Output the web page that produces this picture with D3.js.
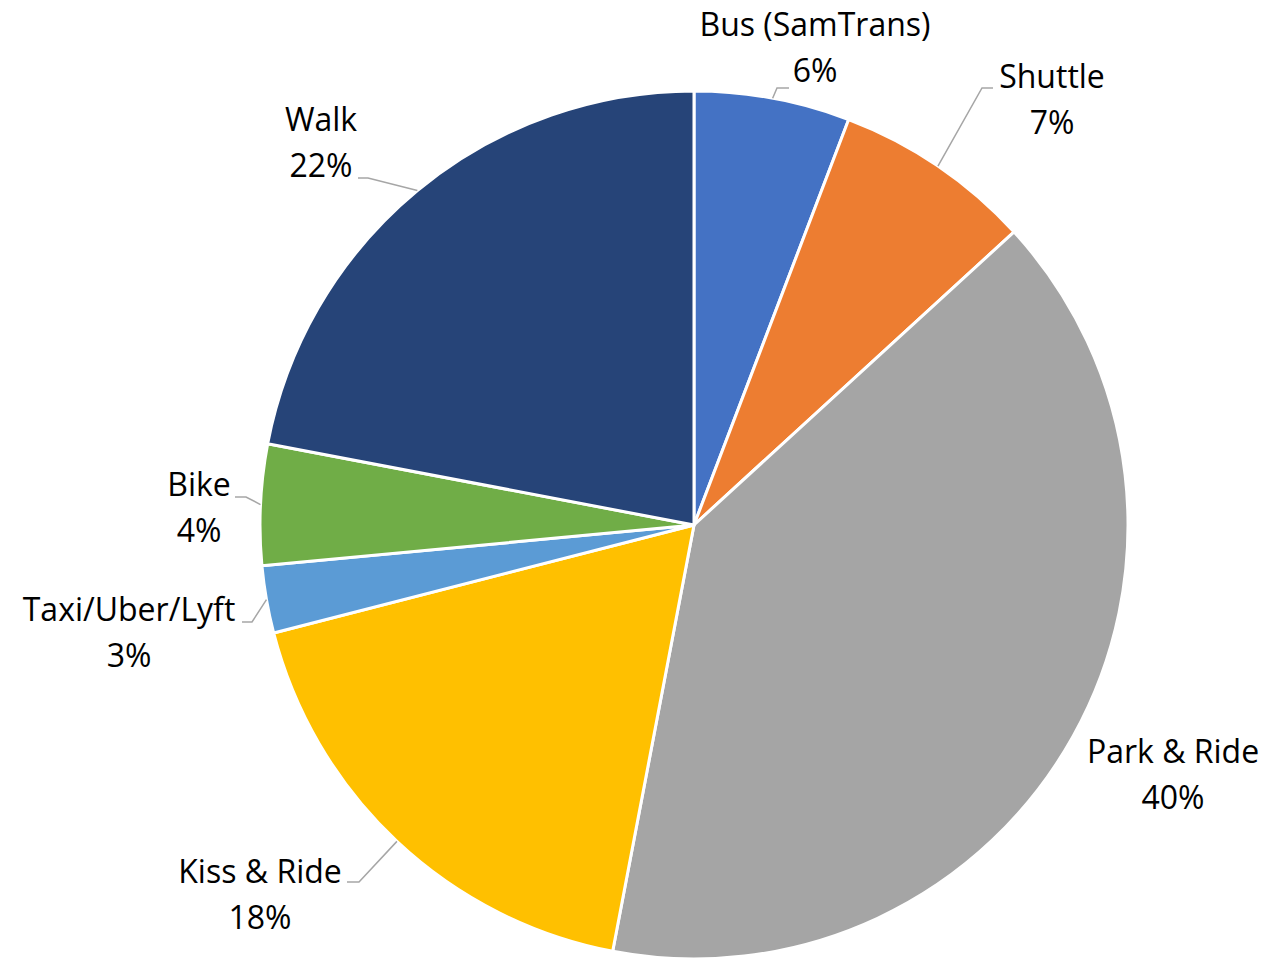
<!DOCTYPE html>
<html>
<head>
<meta charset="utf-8">
<script src="https://cdn.jsdelivr.net/npm/d3@7"></script>
<style>
  body { margin: 0; background: #fff; }
  text { font-family: "Open Sans", Lato, sans-serif; fill: #000; }
</style>
</head>
<body>
<div id="chart"></div>
<script>
// modes of access, clockwise from 12 o'clock
const modes = ["Bus (SamTrans)", "Shuttle", "Park & Ride", "Kiss & Ride", "Taxi/Uber/Lyft", "Bike", "Walk"];
const shares = [5.8, 7.4, 39.8, 18.0, 2.5, 4.5, 22.0];
const pctLabels = ["6%", "7%", "40%", "18%", "3%", "4%", "22%"];
const colors = ["#4472C4", "#ED7D31", "#A5A5A5", "#FFC000", "#5B9BD5", "#70AD47", "#264478"];

// label layout (centre of the two-line label) and the leader line elbow
const labelAt = [[815, 48], [1052, 100], [1173, 775], [260, 895], [129, 633], [199, 508], [321, 143]];
const elbows = [[777, 88, 789], [982, 88, 993], null, [359, 882, 347], [252, 622, 242], [246, 497, 235], [368, 178, 358]];

const width = 1266, height = 959;
const cx = 694, cy = 525, radius = 434;

const svg = d3.select("#chart").append("svg")
    .attr("width", width)
    .attr("height", height);

const pie = d3.pie().sort(null).value(d => d);
const arcs = pie(shares);
const arc = d3.arc().innerRadius(0).outerRadius(radius);

const g = svg.append("g").attr("transform", `translate(${cx},${cy})`);

g.selectAll("path.slice")
    .data(arcs)
    .enter()
    .append("path")
    .attr("class", "slice")
    .attr("d", arc)
    .attr("fill", (d, i) => colors[i])
    .attr("stroke", "#fff")
    .attr("stroke-width", 3)
    .attr("stroke-linejoin", "round");

// leader lines start on the rim at the middle of each slice
g.selectAll("polyline.leader")
    .data(arcs.filter((d, i) => elbows[i] != null))
    .enter()
    .append("polyline")
    .attr("class", "leader")
    .attr("fill", "none")
    .attr("stroke", "#A6A6A6")
    .attr("stroke-width", 1.5)
    .attr("points", d => {
        const mid = (d.startAngle + d.endAngle) / 2;
        const e = elbows[d.index];
        const p0 = [radius * Math.sin(mid), -radius * Math.cos(mid)];
        return [p0, [e[0] - cx, e[1] - cy], [e[2] - cx, e[1] - cy]].map(p => p.join(",")).join(" ");
    });

const labels = svg.selectAll("g.label")
    .data(arcs)
    .enter()
    .append("g")
    .attr("class", "label")
    .attr("transform", (d, i) => `translate(${labelAt[i][0]},${labelAt[i][1]})`);

labels.append("text")
    .attr("text-anchor", "middle")
    .attr("y", -12)
    .attr("font-size", 32)
    .text((d, i) => modes[i]);

labels.append("text")
    .attr("text-anchor", "middle")
    .attr("y", 34)
    .attr("font-size", 32)
    .text((d, i) => pctLabels[i]);
</script>
</body>
</html>
